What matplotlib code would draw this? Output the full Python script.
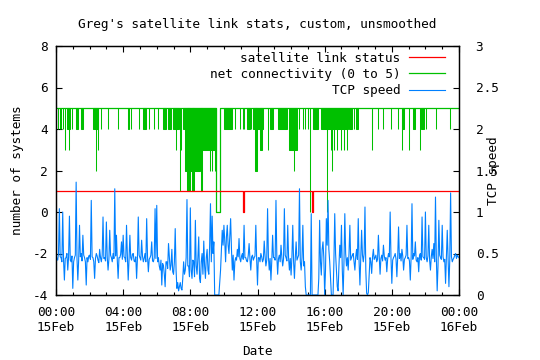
import numpy as np
import matplotlib
matplotlib.use("Agg")
import matplotlib.pyplot as plt
from matplotlib.ticker import MultipleLocator

plt.rcParams['font.family'] = ['DejaVu Sans Mono']
plt.rcParams['font.size'] = 9.2
plt.rcParams['axes.unicode_minus'] = False

# x axis: hours since 00:00 15Feb
tick_hours = [0, 4, 8, 12, 16, 20, 24]
tick_labels = ["00:00\n15Feb", "04:00\n15Feb", "08:00\n15Feb", "12:00\n15Feb",
               "16:00\n15Feb", "20:00\n15Feb", "00:00\n16Feb"]
right_ticks = [0, 0.5, 1, 1.5, 2, 2.5, 3]
right_labels = ['0', '0.5', '1', '1.5', '2', '2.5', '3']

# satellite link status: 1 all day, short drops to 0
link_drop_hours = [11.16, 15.27]

# net connectivity: drops below 5 (start hour, end hour, level)
net_start = [0.10, 0.22, 0.32, 0.44, 0.56, 0.66, 0.79, 0.93, 1.19, 1.49,
             2.22, 2.38, 2.52, 2.66, 3.12, 3.71, 4.27, 4.45, 4.96, 5.20,
             5.56, 5.84, 6.09, 6.39, 6.69, 6.99, 7.15, 7.39, 7.44, 7.58,
             7.68, 7.78, 8.12, 8.64, 8.58, 9.17, 9.27, 9.47, 10.03, 10.66,
             10.98, 11.12, 11.22, 11.36, 11.61, 11.71, 11.85, 12.15, 12.65, 12.75,
             13.24, 13.90, 14.19, 14.47, 14.73, 14.83, 15.03, 15.15, 15.33, 15.76,
             15.92, 16.12, 16.16, 16.40, 16.46, 16.56, 16.76, 16.95, 17.15, 17.35,
             17.47, 17.75, 17.87, 18.80, 18.84, 19.16, 19.49, 19.95, 20.35, 20.59,
             20.63, 21.05, 21.24, 21.68, 21.72, 22.04, 22.63, 23.47, 23.98]
net_end = [0.14, 0.22, 0.32, 0.44, 0.56, 0.81, 0.79, 0.93, 1.29, 1.59,
           2.52, 2.38, 2.52, 2.66, 3.12, 3.71, 4.33, 4.45, 4.96, 5.34,
           5.56, 5.84, 6.09, 6.53, 6.83, 7.35, 7.15, 7.39, 7.44, 7.68,
           8.58, 7.98, 8.24, 8.71, 9.55, 9.17, 9.27, 9.47, 10.46, 10.66,
           10.98, 11.12, 11.22, 11.58, 11.61, 12.35, 11.95, 12.25, 12.65, 12.90,
           13.74, 14.33, 14.19, 14.47, 14.73, 14.83, 15.03, 15.15, 15.62, 15.88,
           17.41, 16.12, 16.16, 16.40, 16.46, 16.56, 16.76, 16.95, 17.15, 17.35,
           17.61, 17.75, 18.01, 18.80, 18.84, 19.16, 19.49, 19.95, 20.35, 20.75,
           20.63, 21.05, 21.40, 21.68, 21.92, 22.04, 22.63, 23.47, 23.98]
net_level = [4, 4, 4, 4, 3, 4, 3, 4, 4, 4,
             4, 2, 3, 4, 4, 4, 4, 4, 4, 4,
             4, 4, 4, 4, 4, 4, 3, 1, 3, 4,
             2, 1, 1, 1, 3, 2, 2, 2, 4, 4,
             4, 4, 4, 4, 4, 4, 2, 3, 3, 4,
             4, 3, 2, 4, 4, 4, 4, 0, 4, 4,
             4, 3, 0, 3, 2, 3, 3, 3, 3, 3,
             4, 4, 4, 4, 3, 4, 4, 4, 4, 4,
             3, 3, 4, 3, 4, 4, 4, 4, 4]

# full outage of net connectivity (level 0)
outage_start = [9.55]
outage_end = [9.79]

# TCP speed, one value every 3 minutes (20 per hour)
tcp_speed = (
    [0.48, 0.44, 0.42, 0.50, 1.04, 0.46, 0.45, 0.40, 1.00, 0.42,
     0.18, 0.44, 0.45, 0.50, 0.30, 0.46, 0.95, 0.42, 0.40, 0.47] +   # 00h
    [0.08, 0.40, 0.45, 0.48, 1.36, 0.44, 0.18, 0.42, 0.84, 0.46,
     0.50, 0.41, 0.72, 0.48, 0.45, 0.40, 0.12, 0.45, 0.40, 0.47] +   # 01h
    [0.48, 0.43, 1.14, 0.46, 0.45, 0.40, 0.20, 0.44, 0.50, 0.47,
     0.42, 0.39, 0.55, 0.45, 0.40, 0.48, 0.94, 0.44, 0.45, 0.41] +   # 02h
    [0.88, 0.46, 0.30, 0.43, 0.78, 0.48, 0.45, 0.40, 0.50, 0.44,
     1.28, 0.47, 0.72, 0.42, 0.20, 0.45, 0.45, 0.49, 0.64, 0.43] +   # 03h
    [0.72, 0.46, 0.45, 0.40, 0.84, 0.47, 0.18, 0.43, 0.72, 0.45,
     0.42, 0.49, 0.50, 0.41, 0.40, 0.46, 0.20, 0.44, 0.94, 0.48] +   # 04h
    [0.45, 0.42, 0.66, 0.47, 0.40, 0.44, 0.50, 0.40, 0.92, 0.46,
     0.28, 0.43, 0.45, 0.48, 0.64, 0.41, 0.40, 0.45, 1.04, 0.44] +   # 05h
    [1.08, 0.40, 0.45, 0.35, 0.30, 0.42, 0.12, 0.38, 0.35, 0.25,
     0.10, 0.40, 0.40, 0.32, 0.62, 0.45, 0.30, 0.36, 0.55, 0.28] +   # 06h
    [0.25, 0.40, 0.80, 0.30, 0.08, 0.15, 0.05, 0.10, 0.15, 0.08,
     0.06, 0.20, 0.40, 0.25, 0.30, 0.45, 1.15, 0.35, 0.35, 0.22] +   # 07h
    [1.05, 0.30, 0.20, 0.42, 0.40, 0.22, 0.90, 0.35, 0.25, 0.45,
     0.70, 0.20, 0.15, 0.40, 0.50, 0.25, 0.65, 0.35, 0.20, 0.45] +   # 08h
    [0.55, 0.30, 0.25, 0.60, 1.10, 0.40, 0.95, 0.50, 0.64, 0.00,
     0.00, 0.00, 0.00, 0.00, 0.00, 0.15, 0.30, 0.55, 0.78, 0.60] +   # 09h
    [0.84, 0.65, 0.40, 0.70, 0.84, 0.60, 0.50, 0.72, 0.92, 0.55,
     0.30, 0.48, 0.18, 0.40, 0.45, 0.42, 0.55, 0.46, 0.68, 0.44] +   # 10h
    [0.40, 0.47, 0.50, 0.43, 0.84, 0.45, 0.45, 0.41, 0.40, 0.48,
     0.62, 0.44, 0.30, 0.46, 0.48, 0.42, 0.45, 0.47, 0.84, 0.43] +   # 11h
    [0.12, 0.45, 0.45, 0.40, 0.50, 0.46, 0.40, 0.43, 0.65, 0.47,
     0.35, 0.42, 1.04, 0.46, 0.30, 0.44, 0.18, 0.41, 0.72, 0.45] +   # 12h
    [0.45, 0.42, 1.14, 0.47, 0.25, 0.44, 0.48, 0.40, 0.60, 0.46,
     0.35, 0.43, 1.04, 0.48, 0.45, 0.41, 0.84, 0.45, 0.30, 0.44] +   # 13h
    [0.24, 0.46, 0.84, 0.40, 0.20, 0.45, 0.64, 0.42, 0.45, 0.48,
     1.28, 0.40, 0.30, 0.45, 0.84, 0.35, 0.40, 0.10, 0.00, 0.00] +   # 14h
    [0.00, 0.00, 0.00, 0.00, 0.98, 0.00, 0.00, 0.00, 0.00, 0.00,
     0.00, 0.00, 0.00, 0.20, 0.90, 0.40, 0.24, 0.55, 0.64, 0.45] +   # 15h
    [0.00, 0.30, 0.92, 0.60, 1.14, 0.55, 0.40, 0.20, 0.00, 0.00,
     0.00, 0.40, 0.98, 0.50, 0.30, 0.10, 0.05, 0.35, 0.60, 0.45] +   # 16h
    [0.84, 0.30, 0.00, 0.40, 0.98, 0.50, 0.35, 0.45, 0.30, 0.50,
     0.84, 0.42, 0.45, 0.48, 0.50, 0.40, 0.30, 0.46, 0.55, 0.43] +   # 17h
    [0.92, 0.40, 0.12, 0.45, 0.78, 0.48, 0.40, 0.50, 1.06, 0.30,
     0.02, 0.00, 0.03, 0.25, 0.45, 0.40, 0.26, 0.46, 0.55, 0.43] +   # 18h
    [0.45, 0.48, 0.40, 0.43, 0.72, 0.46, 0.25, 0.44, 0.48, 0.41,
     0.60, 0.47, 0.42, 0.45, 0.28, 0.43, 0.50, 0.46, 1.00, 0.44] +   # 19h
    [0.14, 0.42, 0.45, 0.47, 0.50, 0.43, 0.22, 0.46, 0.82, 0.44,
     0.50, 0.41, 0.55, 0.47, 0.30, 0.43, 0.45, 0.48, 0.84, 0.44] +   # 20h
    [0.45, 0.41, 0.18, 0.46, 1.10, 0.43, 0.50, 0.47, 0.64, 0.42,
     0.40, 0.45, 0.28, 0.48, 0.50, 0.42, 0.94, 0.46, 0.45, 0.43] +   # 21h
    [1.00, 0.45, 0.40, 0.47, 0.84, 0.42, 0.30, 0.46, 0.55, 0.44,
     0.62, 0.40, 1.18, 0.45, 0.05, 0.35, 0.90, 0.48, 0.45, 0.43] +   # 22h
    [0.84, 0.46, 0.40, 0.43, 0.14, 0.47, 0.78, 0.44, 0.10, 0.42,
     1.23, 0.46, 0.40, 0.43, 0.45, 0.48, 0.50, 0.44, 0.48, 0.46] +   # 23h
    [0.45]
)

RED = '#ff0000'
GREEN = '#00c000'
BLUE = '#0080ff'

fig = plt.figure(figsize=(5.4, 3.6), dpi=100)
ax = fig.add_axes([56 / 540, 65 / 360, 403 / 540, 249 / 360])
ax2 = ax.twinx()

# link status as a line with narrow drops
link_x, link_y = [0], [1]
for t in link_drop_hours:
    link_x += [t, t, t + 0.01, t + 0.01]
    link_y += [1, 0, 0, 1]
link_x.append(24)
link_y.append(1)

# net connectivity line at 5, broken by the outage box
net_x, net_y = [0], [5]
for s, e in zip(outage_start, outage_end):
    net_x += [s, s, e, e]
    net_y += [5, 0, 0, 5]
net_x.append(24)
net_y.append(5)

ax.bar(net_start, [5 - l for l in net_level],
       width=[e - s for s, e in zip(net_start, net_end)],
       bottom=net_level, align='edge', color=GREEN, edgecolor=GREEN,
       linewidth=0.75, zorder=2)
green_line, = ax.plot(net_x, net_y, color=GREEN, lw=0.9, zorder=2,
                      label='net connectivity (0 to 5)')
red_line, = ax.plot(link_x, link_y, color=RED, lw=0.9, zorder=3,
                    label='satellite link status')

hours = np.linspace(0, 24, len(tcp_speed))
blue_line, = ax2.plot(hours, tcp_speed, color=BLUE, lw=0.8,
                      label='TCP speed')

ax.set_xlim(0, 24)
ax.set_ylim(-4, 8)
ax2.set_ylim(0, 3)

ax.set_xticks(tick_hours)
ax.set_xticklabels(tick_labels)
ax.xaxis.set_minor_locator(MultipleLocator(1))
ax.set_yticks([-4, -2, 0, 2, 4, 6, 8])
ax2.set_yticks(right_ticks)
ax2.set_yticklabels(right_labels)

ax.tick_params(axis='x', which='both', direction='in', top=True, pad=8)
ax.tick_params(axis='x', which='major', length=4.5, width=0.8)
ax.tick_params(axis='x', which='minor', length=2.5, width=0.8)
ax.tick_params(axis='y', direction='in', length=4.5, width=0.8, right=False, pad=6)
ax2.tick_params(axis='y', direction='in', length=4.5, width=0.8, pad=12)

for a in (ax, ax2):
    for sp in a.spines.values():
        sp.set_linewidth(0.9)

ax.set_title("Greg's satellite link stats, custom, unsmoothed",
             fontsize=9.2, pad=13)
ax.set_xlabel('Date')
ax.xaxis.set_label_coords(0.5, -0.2)
ax.set_ylabel('number of systems')
ax.yaxis.set_label_coords(-0.08, 0.5)
ax2.set_ylabel('TCP speed')
ax2.yaxis.set_label_coords(1.07, 0.5)

ax2.legend(handles=[red_line, green_line, blue_line], loc='upper right',
           bbox_to_anchor=(0.965, 0.977), frameon=False, markerfirst=False,
           handlelength=2.8, handletextpad=0.7, labelspacing=0.25,
           borderpad=0, borderaxespad=0)

fig.savefig('out.png', dpi=100)
